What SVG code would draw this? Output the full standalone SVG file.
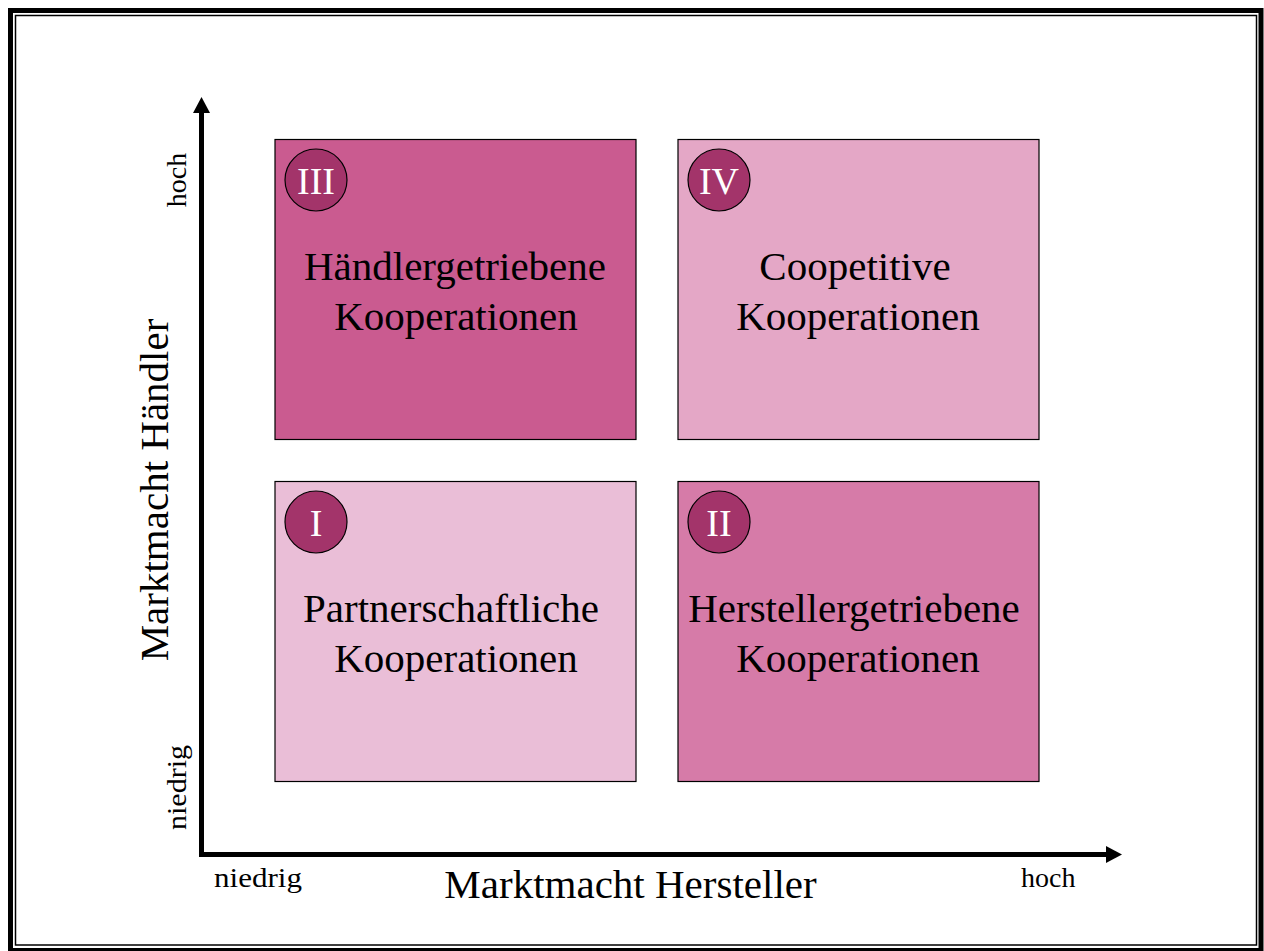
<svg xmlns="http://www.w3.org/2000/svg" width="1264" height="951" viewBox="0 0 1264 951">
<style>
.t{font-family:"Liberation Serif","Times New Roman",serif;fill:#000}
.big{font-size:41px}
.sm{font-size:28px}
.q{stroke:#000;stroke-width:1.2}
.c{fill:#A3346A;stroke:#000;stroke-width:1.2}
.rn{font-family:"Liberation Serif","Times New Roman",serif;font-size:38px;fill:#fff}
</style>
<rect x="0" y="0" width="1264" height="951" fill="#fff"/>
<rect x="10.5" y="10.5" width="1250.5" height="940" fill="none" stroke="#000" stroke-width="5"/>
<rect x="15.5" y="15.5" width="1241" height="929.5" fill="none" stroke="#000" stroke-width="1.5"/>
<g id="axes">
<polyline points="201.5,113 201.5,854.5 1106,854.5" fill="none" stroke="#000" stroke-width="5"/>
<polygon points="201.5,97 193,113 210,113" fill="#000"/>
<polygon points="1122,854.5 1106,846 1106,863" fill="#000"/>
</g>
<g id="q3">
<rect class="q" x="275" y="139.5" width="361" height="300" fill="#CA5B90"/>
<circle class="c" cx="316" cy="180" r="31"/>
<text class="rn" x="316" y="194" text-anchor="middle">III</text>
<text class="t big" x="455" y="280" text-anchor="middle">Händlergetriebene</text>
<text class="t big" x="456" y="330" text-anchor="middle">Kooperationen</text>
</g>
<g id="q4">
<rect class="q" x="678" y="139.5" width="361" height="300" fill="#E4A7C6"/>
<circle class="c" cx="719" cy="180" r="31"/>
<text class="rn" x="719" y="194" text-anchor="middle">IV</text>
<text class="t big" x="855" y="280" text-anchor="middle">Coopetitive</text>
<text class="t big" x="858" y="330" text-anchor="middle">Kooperationen</text>
</g>
<g id="q1">
<rect class="q" x="275" y="481.5" width="361" height="300" fill="#EABED7"/>
<circle class="c" cx="316" cy="522" r="31"/>
<text class="rn" x="316" y="536" text-anchor="middle">I</text>
<text class="t big" x="451" y="622" text-anchor="middle">Partnerschaftliche</text>
<text class="t big" x="456" y="672" text-anchor="middle">Kooperationen</text>
</g>
<g id="q2">
<rect class="q" x="678" y="481.5" width="361" height="300" fill="#D67BA8"/>
<circle class="c" cx="719" cy="522" r="31"/>
<text class="rn" x="719" y="536" text-anchor="middle">II</text>
<text class="t big" x="854" y="622" text-anchor="middle">Herstellergetriebene</text>
<text class="t big" x="858" y="672" text-anchor="middle">Kooperationen</text>
</g>
<g id="labels">
<text class="t big" x="630.5" y="898" text-anchor="middle">Marktmacht Hersteller</text>
<text class="t big" transform="translate(168,490) rotate(-90)" text-anchor="middle">Marktmacht Händler</text>
<text class="t sm" x="214" y="887" font-size="30" textLength="88" lengthAdjust="spacingAndGlyphs">niedrig</text>
<text class="t sm" x="1021" y="887">hoch</text>
<text class="t sm" transform="translate(186,180) rotate(-90)" text-anchor="middle">hoch</text>
<text class="t sm" transform="translate(186,787.5) rotate(-90)" text-anchor="middle" font-size="30" textLength="85" lengthAdjust="spacingAndGlyphs">niedrig</text>
</g>
</svg>
